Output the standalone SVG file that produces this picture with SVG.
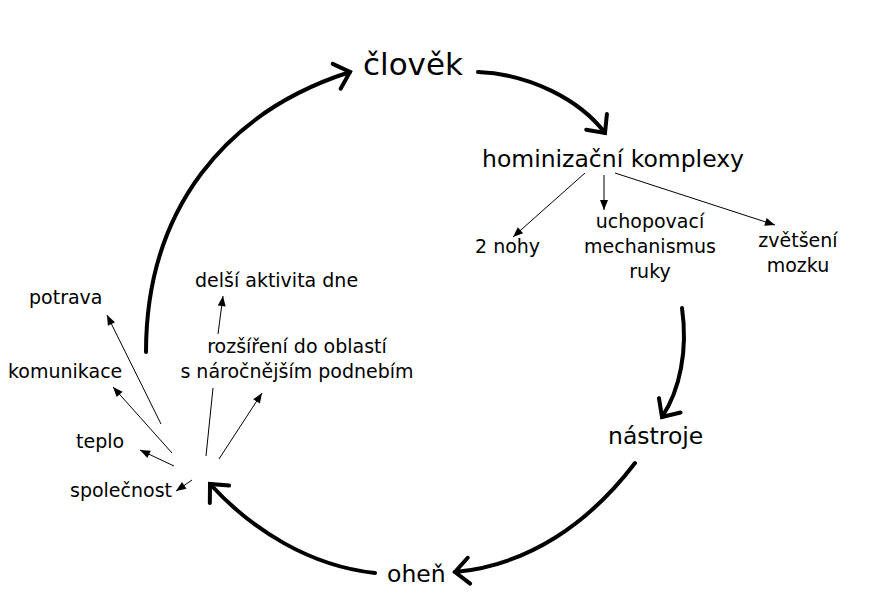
<svg xmlns="http://www.w3.org/2000/svg" width="870" height="615" viewBox="0 0 870 615">
<defs>
<style>
text{font-family:"DejaVu Sans",Verdana,sans-serif;fill:#000}
.s{font-size:19px}
.m{font-size:23.5px}
.big{fill:none;stroke:#000;stroke-width:4;stroke-linecap:round}
.thin{fill:none;stroke:#000;stroke-width:1}
</style>
<marker id="chev" markerUnits="userSpaceOnUse" markerWidth="40" markerHeight="40" refX="0" refY="0" orient="auto" style="overflow:visible">
<path d="M-14,-13 L0,0 L-14,13" fill="none" stroke="#000" stroke-width="4" stroke-linecap="round" stroke-linejoin="miter"/>
</marker>
<marker id="tri" markerUnits="userSpaceOnUse" markerWidth="20" markerHeight="20" refX="0" refY="0" orient="auto" style="overflow:visible">
<path d="M-10,-4 L0,0 L-10,4 Z" fill="#000"/>
</marker>
</defs>
<rect width="870" height="615" fill="#fff"/>
<g id="connectors">
<path class="big" d="M146,352 C146,210 225,112 350,72" marker-end="url(#chev)"/>
<path class="big" d="M478,72 C530,74 580,100 605,133" marker-end="url(#chev)"/>
<path class="big" d="M682,308 C688,350 680,390 662,417" marker-end="url(#chev)"/>
<path class="big" d="M635,463 C590,522 530,565 455,572" marker-end="url(#chev)"/>
<path class="big" d="M375,573 C310,566 252,530 210,484" marker-end="url(#chev)"/>
<line class="thin" x1="585" y1="173" x2="513" y2="237" marker-end="url(#tri)"/>
<line class="thin" x1="604" y1="175" x2="604" y2="210" marker-end="url(#tri)"/>
<line class="thin" x1="615" y1="173" x2="775" y2="225" marker-end="url(#tri)"/>
<line class="thin" x1="161" y1="424" x2="107" y2="315" marker-end="url(#tri)"/>
<line class="thin" x1="172" y1="453" x2="113" y2="387" marker-end="url(#tri)"/>
<line class="thin" x1="174" y1="466" x2="140" y2="450" marker-end="url(#tri)"/>
<line class="thin" x1="192" y1="480" x2="176" y2="491" marker-end="url(#tri)"/>
<line class="thin" x1="206" y1="456" x2="213" y2="388"/>
<line class="thin" x1="219" y1="459" x2="262" y2="393" marker-end="url(#tri)"/>
<line class="thin" x1="218" y1="334" x2="223" y2="296" marker-end="url(#tri)"/>
</g>
<g id="clovek"><text x="363" y="75" style="font-size:31px">člověk</text></g>
<g id="hominizacni"><text class="m" x="482" y="167">hominizační komplexy</text></g>
<g id="nohy"><text class="s" x="475" y="253">2 nohy</text></g>
<g id="uchopovaci"><text class="s" text-anchor="middle"><tspan x="650" y="228">uchopovací</tspan><tspan x="650" y="253">mechanismus</tspan><tspan x="650" y="278">ruky</tspan></text></g>
<g id="zvetseni"><text class="s" text-anchor="middle"><tspan x="798" y="247">zvětšení</tspan><tspan x="798" y="272">mozku</tspan></text></g>
<g id="nastroje"><text class="m" x="608" y="444">nástroje</text></g>
<g id="ohen"><text class="m" x="387" y="582">oheň</text></g>
<g id="potrava"><text class="s" x="29" y="304">potrava</text></g>
<g id="komunikace"><text class="s" x="8" y="378">komunikace</text></g>
<g id="teplo"><text class="s" x="76" y="448">teplo</text></g>
<g id="spolecnost"><text class="s" x="70" y="497">společnost</text></g>
<g id="delsi"><text class="s" x="195" y="287">delší aktivita dne</text></g>
<g id="rozsireni"><text class="s" text-anchor="middle"><tspan x="297" y="353">rozšíření do oblastí</tspan><tspan x="297" y="378">s náročnějším podnebím</tspan></text></g>
</svg>
